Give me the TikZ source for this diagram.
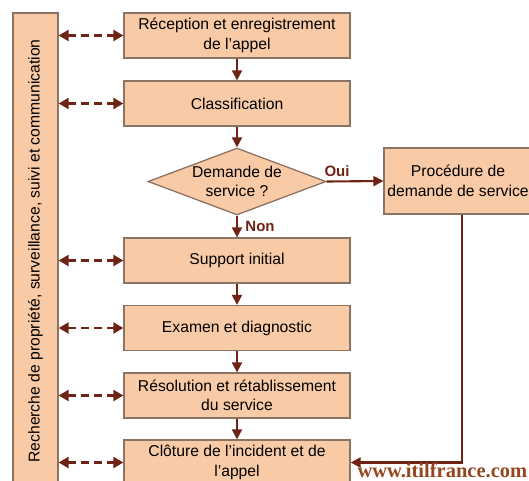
\documentclass[tikz,border=0pt]{standalone}
\usepackage{fontspec}
\setmainfont{Liberation Sans}
\newfontfamily\wmfont{Liberation Serif}
\usetikzlibrary{shapes.geometric,arrows.meta}
\definecolor{boxfill}{RGB}{249,202,166}
\definecolor{boxline}{RGB}{139,116,100}
\definecolor{arrowc}{RGB}{110,35,20}
\definecolor{wmc}{RGB}{150,70,30}
\begin{document}
\begin{tikzpicture}[x=1pt,y=-1pt,
  stepbox/.style={draw=boxline, line width=1.3pt, fill=boxfill, minimum width=226pt, minimum height=45pt, inner sep=0pt, align=center, font=\fontsize{15.7}{19.5}\selectfont},
  arr/.style={draw=arrowc, line width=2.1pt, -{Triangle[length=10pt,width=10pt]}},
  dasharr/.style={draw=arrowc, line width=2.3pt, dash pattern=on 8pt off 5pt, {Triangle[length=10pt,width=11pt]}-{Triangle[length=10pt,width=11pt]}},
  lab/.style={text=arrowc, font=\bfseries\fontsize{15}{18}\selectfont}]
\useasboundingbox (0,0) rectangle (529,480);
\clip (0,0) rectangle (529,480);

\node[draw=boxline, line width=1.3pt, fill=boxfill, minimum width=45pt, minimum height=487pt, inner sep=0pt] (bar) at (35.5,256.5) {};
\node[rotate=90, font=\fontsize{15.7}{19.5}\selectfont] (bartext) at (35.5,251) {Recherche de propriété, surveillance, suivi et communication};

\node[stepbox] (b1) at (237,35.5) {Réception et enregistrement\\de l'appel};
\node[stepbox] (b2) at (237,103.5) {Classification};
\node[diamond, draw=boxline, line width=1.3pt, fill=boxfill, aspect=2.66, inner sep=0pt, minimum width=178pt, minimum height=67pt, align=center, font=\fontsize{15.7}{19.5}\selectfont] (d) at (237,181.5) {Demande de\\service ?};
\node[stepbox] (b3) at (237,260.5) {Support initial};
\node[stepbox] (b4) at (237,328) {Examen et diagnostic};
\node[stepbox] (b5) at (237,395.5) {Résolution et rétablissement\\du service};
\node[stepbox] (b6) at (237,462.5) {Clôture de l'incident et de\\l'appel};
\node[stepbox, minimum width=148pt, minimum height=66pt] (pr) at (458,181) {Procédure de\\demande de service};

\draw[arr] (b1.south) -- (b2.north);
\draw[arr] (b2.south) -- (d.north);
\draw[arr] (d.south) -- (b3.north);
\draw[arr] (b3.south) -- (b4.north);
\draw[arr] (b4.south) -- (b5.north);
\draw[arr] (b5.south) -- (b6.north);
\draw[arr] (d.east) -- (pr.west);
\draw[arr] ([xshift=4pt]pr.south) |- (b6.east);

\foreach \n in {b1,b2,b3,b4,b5,b6}
  \draw[dasharr] (bar.east |- \n.west) -- (\n.west);

\node[lab] (oui) at (337,171) {Oui};
\node[lab] (non) at (260,226) {Non};

\node[anchor=base west, font=\wmfont\bfseries\fontsize{20.5}{24}\selectfont, text=wmc] (wm) at (354,477) {www.itilfrance.com};
\end{tikzpicture}
\end{document}
